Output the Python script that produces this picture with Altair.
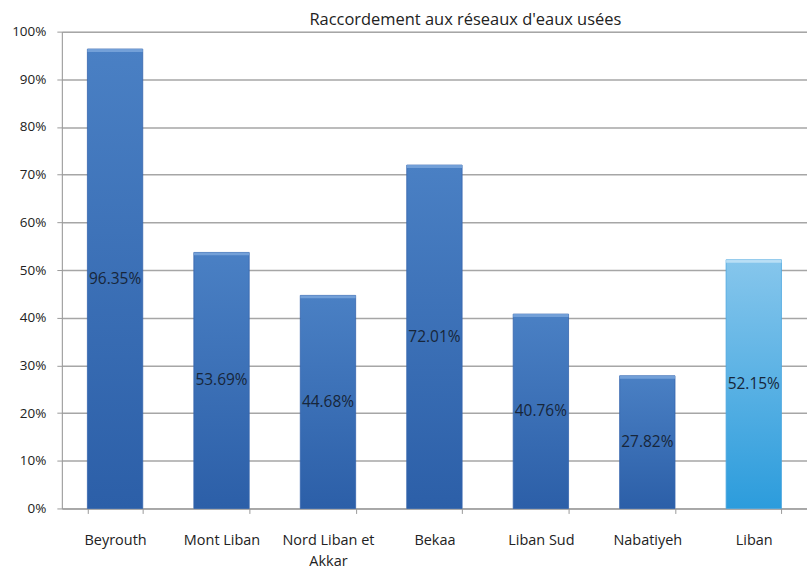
import altair as alt
import pandas as pd

regions = ["Beyrouth", "Mont Liban", "Nord Liban et Akkar", "Bekaa",
           "Liban Sud", "Nabatiyeh", "Liban"]
rates = [96.35, 53.69, 44.68, 72.01, 40.76, 27.82, 52.15]
groups = ["region"] * 6 + ["national"]

df = pd.DataFrame({"region": regions, "rate": rates, "group": groups})
df["half"] = df["rate"] / 2
df["label"] = df["rate"].map(lambda v: f"{v:.2f}%")

FONT = "Open Sans"

x_enc = alt.X(
    "region:N", sort=regions, title=None,
    scale=alt.Scale(paddingInner=0.48, paddingOuter=0.24),
    axis=alt.Axis(
        tickBand="extent", labelAngle=0, labelFontSize=14.5, labelColor="#222222",
        labelFont=FONT, labelPadding=20, labelLineHeight=21,
        domainColor="#9a9a9a", tickColor="#9a9a9a",
        tickSize=5, grid=False,
        labelExpr="datum.label == 'Nord Liban et Akkar' ? ['Nord Liban et', 'Akkar'] : datum.label",
    ),
)

y_scale = alt.Scale(domain=[0, 100], nice=False)

blue = alt.Gradient(
    gradient="linear", x1=0, y1=1, x2=0, y2=0,
    stops=[alt.GradientStop(offset=0, color="#2c5fa8"),
           alt.GradientStop(offset=1, color="#4a80c4")],
)
light = alt.Gradient(
    gradient="linear", x1=0, y1=1, x2=0, y2=0,
    stops=[alt.GradientStop(offset=0, color="#2c9cdc"),
           alt.GradientStop(offset=1, color="#86c6ec")],
)

base = alt.Chart(df)

bars_reg = base.transform_filter("datum.group == 'region'").mark_bar(
    fill=blue, stroke="#3565ad", strokeWidth=0.8
).encode(
    x=x_enc,
    y=alt.Y("rate:Q", scale=y_scale, title=None,
            axis=alt.Axis(values=list(range(0, 101, 10)),
                          labelExpr="datum.value + '%'", labelFontSize=13.5,
                          labelFont=FONT, labelColor="#222222", labelPadding=11,
                          gridColor="#a6a6a6", gridWidth=1.5, domainColor="#9a9a9a",
                          tickColor="#9a9a9a", tickSize=5)),
)

bars_nat = base.transform_filter("datum.group == 'national'").mark_bar(
    fill=light, stroke="#4aa6e0", strokeWidth=0.8
).encode(x=x_enc, y=alt.Y("rate:Q", scale=y_scale))

# light bevel along the top edge of each bar
caps = base.transform_calculate(
    cap_low="datum.rate - 0.6"
).mark_bar(opacity=0.85).encode(
    x=x_enc,
    y=alt.Y("rate:Q", scale=y_scale),
    y2="cap_low:Q",
    color=alt.Color("group:N", legend=None,
                    scale=alt.Scale(domain=["region", "national"],
                                    range=["#7aa6dc", "#c2e3f7"])),
)

labels = base.mark_text(
    fontSize=15.5, font=FONT, color="#17263a", baseline="middle"
).encode(x=x_enc, y=alt.Y("half:Q", scale=y_scale), text="label:N")

chart = alt.layer(bars_reg, bars_nat, caps, labels).properties(
    width=747, height=478,
    autosize=alt.AutoSizeParams(type="none"),
    padding={"left": 62, "top": 31, "right": 0, "bottom": 64},
    title=alt.TitleParams(
        "Raccordement aux réseaux d'eaux usées", font=FONT, fontSize=16.5,
        fontWeight="normal", color="#222222", anchor="middle", dx=31, dy=4, offset=0,
    ),
).configure_view(stroke=None).configure(background="white")

chart.save("out.html", embed_options={"renderer": "svg", "actions": False})
